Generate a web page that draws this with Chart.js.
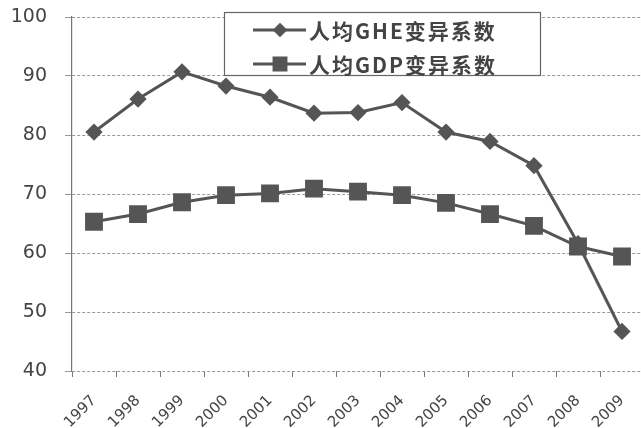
<!DOCTYPE html>
<html>
<head>
<meta charset="utf-8">
<script src="https://cdn.jsdelivr.net/npm/chart.js@4/dist/chart.umd.min.js"></script>
<style>
  html, body { margin: 0; padding: 0; background: #fff; overflow: hidden; }
  #wrap { width: 641px; height: 428px; overflow: hidden; }
</style>
</head>
<body>
<div id="wrap"><canvas id="cv" width="660" height="428"></canvas></div>
<script>
// Data.
const years = ['1997', '1998', '1999', '2000', '2001', '2002', '2003',
               '2004', '2005', '2006', '2007', '2008', '2009'];
const gheCv = [80.5, 86.1, 90.7, 88.3, 86.4, 83.7, 83.8, 85.5, 80.5, 78.9, 74.8, 61.6, 46.7];
const gdpCv = [65.3, 66.6, 68.6, 69.8, 70.1, 70.9, 70.4, 69.8, 68.5, 66.6, 64.6, 61.1, 59.4];
const seriesNames = ['人均GHE变异系数', '人均GDP变异系数'];
const yTicks = [40, 50, 60, 70, 80, 90, 100];

const ink = '#555';
const textInk = '#444';

// Boxed legend drawn on top of the plot, like the original.
const boxLegend = {
  id: 'boxLegend',
  afterDraw(chart) {
    const ctx = chart.ctx;
    const box = { x: 224, y: 12, w: 316, h: 63 };
    ctx.save();
    ctx.fillStyle = '#fff';
    ctx.fillRect(box.x, box.y, box.w, box.h);
    ctx.strokeStyle = '#666';
    ctx.lineWidth = 1.2;
    ctx.strokeRect(box.x + 0.5, box.y + 0.5, box.w, box.h);

    const rows = [30, 64];
    chart.data.datasets.forEach((ds, i) => {
      const y = rows[i];
      ctx.strokeStyle = ds.borderColor;
      ctx.lineWidth = ds.borderWidth;
      ctx.beginPath();
      ctx.moveTo(253, y);
      ctx.lineTo(306, y);
      ctx.stroke();
      ctx.fillStyle = ds.pointBackgroundColor;
      Chart.helpers.drawPoint(ctx, {
        pointStyle: ds.pointStyle,
        radius: ds.pointRadius * 0.8,
        borderWidth: 1,
        rotation: 0
      }, 280, y);

      ctx.fillStyle = textInk;
      ctx.font = 'bold 21px "Noto Sans CJK SC", "DejaVu Sans", sans-serif';
      ctx.letterSpacing = '2px';
      ctx.textBaseline = 'middle';
      ctx.textAlign = 'left';
      ctx.fillText(ds.label, 309, y + 1);
    });
    ctx.restore();
  }
};

new Chart(document.getElementById('cv'), {
  type: 'line',
  data: {
    labels: years,
    datasets: [
      {
        label: seriesNames[0],
        data: gheCv,
        borderColor: ink,
        borderWidth: 3,
        pointStyle: 'rectRot',
        pointRadius: 6.5,
        pointBackgroundColor: ink,
        pointBorderColor: ink,
        tension: 0
      },
      {
        label: seriesNames[1],
        data: gdpCv,
        borderColor: ink,
        borderWidth: 3,
        pointStyle: 'rect',
        pointRadius: 10.5,
        pointBackgroundColor: ink,
        pointBorderColor: ink,
        tension: 0
      }
    ]
  },
  options: {
    responsive: false,
    animation: false,
    layout: { padding: { top: 17, right: 16, left: 0, bottom: 0 } },
    plugins: {
      legend: { display: false },
      tooltip: { enabled: false }
    },
    scales: {
      x: {
        offset: true,
        afterFit: s => { s.height = 57; s.paddingLeft = 0; s.paddingRight = 0; },
        border: { display: false },
        grid: {
          offset: true,
          drawOnChartArea: false,
          drawTicks: true,
          tickLength: 6,
          color: '#777'
        },
        ticks: {
          minRotation: 45,
          maxRotation: 45,
          padding: 15,
          labelOffset: 0,
          color: textInk,
          font: { family: '"DejaVu Sans", sans-serif', size: 15 }
        }
      },
      y: {
        min: 40,
        max: 100,
        afterFit: s => { s.width = 72; s.paddingTop = 0; s.paddingBottom = 0; },
        afterBuildTicks: s => { s.ticks = yTicks.map(v => ({ value: v })); },
        border: { display: true, color: '#777', width: 1.2, dash: [3, 2] },
        grid: {
          color: '#999',
          lineWidth: 1,
          tickLength: 7,
          tickBorderDash: []
        },
        ticks: {
          padding: 18,
          color: textInk,
          font: { family: '"DejaVu Sans", sans-serif', size: 19 }
        }
      }
    }
  },
  plugins: [boxLegend]
});
</script>
</body>
</html>
